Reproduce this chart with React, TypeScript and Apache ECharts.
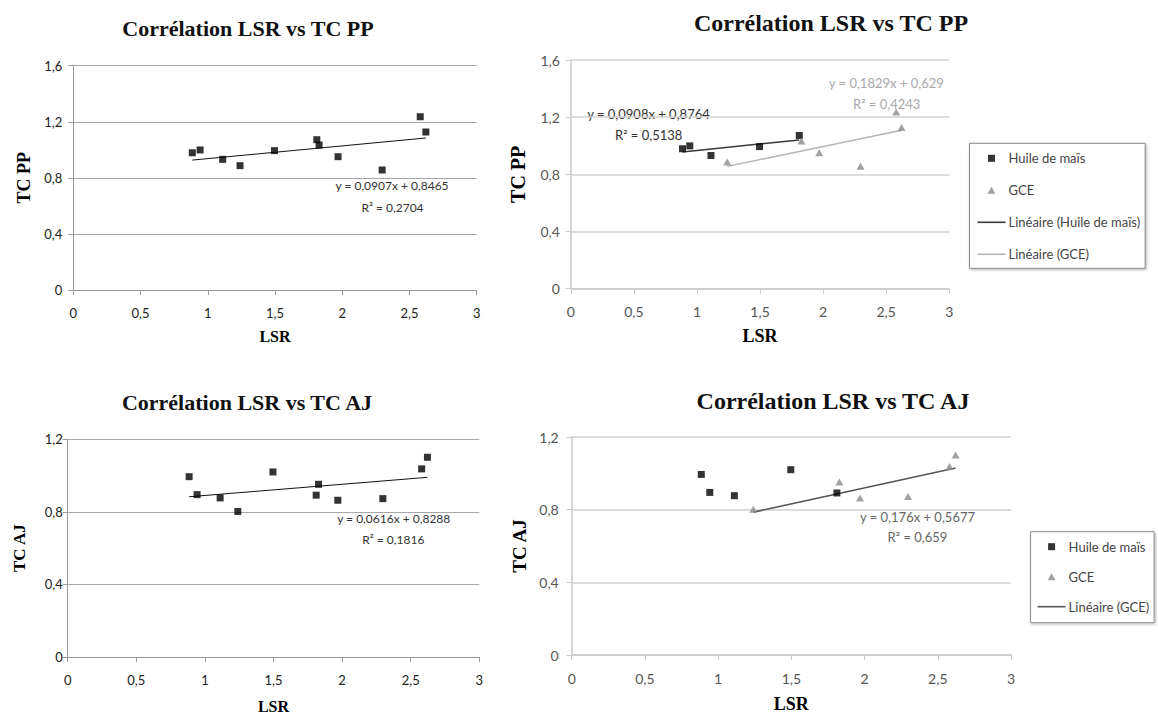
import React, { useEffect, useRef } from "react";
import * as echarts from "echarts";

// ---- data ----
const LSR = [0.885, 0.943, 1.111, 1.24, 1.496, 1.811, 1.828, 1.969, 2.297, 2.58, 2.622];
const TC_PP = [0.979, 0.999, 0.932, 0.887, 0.994, 1.072, 1.034, 0.951, 0.856, 1.236, 1.127];
const TC_AJ = [0.994, 0.895, 0.877, 0.802, 1.02, 0.892, 0.952, 0.864, 0.873, 1.037, 1.101];
const GROUP = ["H", "H", "H", "G", "H", "H", "G", "G", "G", "G", "G"];

const X_TICKS = ["0", "0,5", "1", "1,5", "2", "2,5", "3"];
const Y_TICKS_PP = ["0", "0,4", "0,8", "1,2", "1,6"];
const Y_TICKS_AJ = ["0", "0,4", "0,8", "1,2"];

const TITLES = [
  "Corrélation LSR vs TC PP",
  "Corrélation LSR vs TC PP",
  "Corrélation LSR vs TC AJ",
  "Corrélation LSR vs TC AJ",
];
const NAME_HUILE = "Huile de maïs";
const NAME_GCE = "GCE";
const NAME_LIN_HUILE = "Linéaire (Huile de maïs)";
const NAME_LIN_GCE = "Linéaire (GCE)";

// trend lines [slope, intercept]
const FIT_PP_ALL = [0.0907, 0.8465];
const FIT_PP_HUILE = [0.0908, 0.8764];
const FIT_PP_GCE = [0.1829, 0.629];
const FIT_AJ_ALL = [0.0616, 0.8288];
const FIT_AJ_GCE = [0.176, 0.5677];

const EQ_PP_ALL = ["y = 0,0907x + 0,8465", "R² = 0,2704"];
const EQ_PP_HUILE = ["y = 0,0908x + 0,8764", "R² = 0,5138"];
const EQ_PP_GCE = ["y = 0,1829x + 0,629", "R² = 0,4243"];
const EQ_AJ_ALL = ["y = 0,0616x + 0,8288", "R² = 0,1816"];
const EQ_AJ_GCE = ["y = 0,176x + 0,5677", "R² = 0,659"];

// ---- helpers ----
function pts(ys: number[], g?: string) {
  const out: number[][] = [];
  LSR.forEach((x, i) => {
    if (!g || GROUP[i] === g) out.push([x, ys[i]]);
  });
  return out;
}
function trend(fit: number[], g?: string) {
  const xs = LSR.filter((_, i) => !g || GROUP[i] === g);
  const lo = Math.min(...xs);
  const hi = Math.max(...xs);
  return [
    [lo, fit[0] * lo + fit[1]],
    [hi, fit[0] * hi + fit[1]],
  ];
}

const SERIF = "'Liberation Serif', 'Times New Roman', serif";
const SANS = "Lato, 'Noto Sans', sans-serif";

const GRIDS = [
  { left: 73.3, top: 65.7, width: 403.4, height: 224.3 },
  { left: 570.9, top: 60, width: 378.3, height: 228.7 },
  { left: 67.7, top: 439.3, width: 411.6, height: 218 },
  { left: 571.7, top: 437, width: 439.3, height: 218 },
];

export default function App() {
  const ref = useRef<HTMLDivElement>(null);
  useEffect(() => {
    if (!ref.current) return;
    const chart = echarts.init(ref.current, undefined, { renderer: "svg" });

    const left = [0, 2];
    const axisColor = (i: number) => (left.includes(i) ? "#9a9a9a" : "#c9c9c9");
    const labelColor = (i: number) => (left.includes(i) ? "#222" : "#555");
    const tickFont = (i: number) => (left.includes(i) ? 13 : 14);

    const xAxes = GRIDS.map((_, i) => ({
      type: "value",
      gridIndex: i,
      min: 0,
      max: 3,
      interval: 0.5,
      name: "LSR",
      nameLocation: "middle",
      nameGap: [38, 38, 41, 40][i],
      nameTextStyle: { fontFamily: SERIF, fontWeight: "bold", fontSize: [16, 18, 16, 18][i], color: "#000" },
      axisLine: { show: true, lineStyle: { color: axisColor(i), width: left.includes(i) ? 1 : 1.5 } },
      axisTick: { show: true, length: 5, inside: false, lineStyle: { color: axisColor(i) } },
      axisLabel: {
        margin: 16,
        fontFamily: SANS,
        fontSize: tickFont(i),
        color: labelColor(i),
        formatter: (v: number) => X_TICKS[Math.round(v / 0.5)],
      },
      splitLine: { show: false },
    }));

    const yAxes = GRIDS.map((_, i) => {
      const pp = i < 2;
      return {
        type: "value",
        gridIndex: i,
        min: 0,
        max: pp ? 1.6 : 1.2,
        interval: 0.4,
        name: pp ? "TC PP" : "TC AJ",
        nameLocation: "middle",
        nameGap: [40, 43, 40, 43][i],
        nameTextStyle: { fontFamily: SERIF, fontWeight: "bold", fontSize: [18, 20, 17, 19][i], color: "#000" },
        axisLine: { show: true, lineStyle: { color: axisColor(i), width: left.includes(i) ? 1 : 1.5 } },
        axisTick: { show: true, length: 5, inside: false, lineStyle: { color: axisColor(i) } },
        axisLabel: {
          margin: [11, 11, 5, 13][i],
          fontFamily: SANS,
          fontSize: tickFont(i),
          color: labelColor(i),
          formatter: (v: number) => (pp ? Y_TICKS_PP : Y_TICKS_AJ)[Math.round(v / 0.4)],
        },
        splitLine: { show: true, lineStyle: { color: left.includes(i) ? "#a8a8a8" : "#d2d2d2", width: left.includes(i) ? 1 : 1.5 } },
      };
    });

    const sq = (gi: number, data: number[][], name: string) => ({
      type: "scatter",
      name,
      xAxisIndex: gi,
      yAxisIndex: gi,
      data,
      symbol: "rect",
      symbolSize: 7,
      itemStyle: { color: "#000" },
      z: 3,
    });
    const tri = (gi: number, data: number[][]) => ({
      type: "scatter",
      name: NAME_GCE,
      xAxisIndex: gi,
      yAxisIndex: gi,
      data,
      symbol: "triangle",
      symbolSize: [8, 7],
      itemStyle: { color: "#8a8a8a" },
      z: 3,
    });
    const lin = (gi: number, data: number[][], name: string, color: string, width: number) => ({
      type: "line",
      name,
      xAxisIndex: gi,
      yAxisIndex: gi,
      data,
      symbol: "none",
      lineStyle: { color, width },
      itemStyle: { color },
      z: 2,
    });

    const series = [
      sq(0, pts(TC_PP), "LSR vs TC PP"),
      lin(0, trend(FIT_PP_ALL), "Tendance PP", "#111", 1),

      sq(1, pts(TC_PP, "H"), NAME_HUILE),
      tri(1, pts(TC_PP, "G")),
      lin(1, trend(FIT_PP_HUILE, "H"), NAME_LIN_HUILE, "#3a3a3a", 1.5),
      lin(1, trend(FIT_PP_GCE, "G"), NAME_LIN_GCE, "#b4b4b4", 1.5),

      sq(2, pts(TC_AJ), "LSR vs TC AJ"),
      lin(2, trend(FIT_AJ_ALL), "Tendance AJ", "#111", 1),

      sq(3, pts(TC_AJ, "H"), NAME_HUILE),
      tri(3, pts(TC_AJ, "G")),
      lin(3, trend(FIT_AJ_GCE, "G"), NAME_LIN_GCE, "#555", 1.5),
    ];

    const titlePos = [
      { x: 248, top: 17, size: 22 },
      { x: 831, top: 11, size: 24 },
      { x: 247, top: 391, size: 22 },
      { x: 833, top: 389, size: 24 },
    ];
    const titles = TITLES.map((t, i) => ({
      text: t,
      left: titlePos[i].x,
      top: titlePos[i].top,
      textAlign: "center",
      padding: 0,
      textStyle: { fontFamily: SERIF, fontWeight: "bold", fontSize: titlePos[i].size, color: "#111" },
    }));

    const SQ_ICON = "path://M0,0H10V10H0Z";
    const TRI_ICON = "path://M5,0L10,9H0Z";
    const LINE_ICON = "path://M0,0H28V1.6H0Z";
    const legendBase = {
      orient: "vertical",
      itemWidth: 28,
      itemHeight: 7,
      itemGap: 18,
      symbolKeepAspect: true,
      selectedMode: false,
      backgroundColor: "#fff",
      borderColor: "#8a8a8a",
      borderWidth: 1,
      borderRadius: 0,
      shadowColor: "rgba(0,0,0,0.3)",
      shadowBlur: 3,
      shadowOffsetX: 1,
      shadowOffsetY: 1,
      itemStyle: { borderWidth: 0 },
      textStyle: { fontFamily: SANS, fontSize: 13, color: "#444", lineHeight: 14, padding: [0, 0, 0, -2] },
    };
    const legends = [
      {
        ...legendBase,
        left: 969.5,
        top: 143.3,
        padding: [8, 5, 7, 8],
        data: [
          { name: NAME_HUILE, icon: SQ_ICON, itemStyle: { color: "#000" } },
          { name: NAME_GCE, icon: TRI_ICON, itemStyle: { color: "#8a8a8a" } },
          { name: NAME_LIN_HUILE, icon: LINE_ICON, itemStyle: { color: "#3a3a3a" } },
          { name: NAME_LIN_GCE, icon: LINE_ICON, itemStyle: { color: "#b4b4b4" } },
        ],
      },
      {
        ...legendBase,
        left: 1030.6,
        top: 531.7,
        itemGap: 16,
        padding: [8, 5, 9, 7],
        data: [
          { name: NAME_HUILE, icon: SQ_ICON, itemStyle: { color: "#000" } },
          { name: NAME_GCE, icon: TRI_ICON, itemStyle: { color: "#8a8a8a" } },
          { name: NAME_LIN_GCE, icon: LINE_ICON, itemStyle: { color: "#555" } },
        ],
      },
    ];

    const eqText = (text: string, x: number, y: number, size: number, color: string) => ({
      type: "text",
      x,
      y,
      silent: true,
      style: {
        text,
        fill: color,
        fontFamily: SANS,
        fontSize: size,
        align: "center",
        verticalAlign: "middle",
        textAlign: "center",
        textVerticalAlign: "middle",
      },
    });
    const graphic = [
      eqText(EQ_PP_ALL[0], 392, 185.7, 12, "#333"),
      eqText(EQ_PP_ALL[1], 392.5, 207.3, 12, "#333"),
      eqText(EQ_PP_HUILE[0], 648.5, 113.5, 13, "#333"),
      eqText(EQ_PP_HUILE[1], 648.7, 135, 13, "#333"),
      eqText(EQ_PP_GCE[0], 886.3, 82.7, 13, "#a8a8a8"),
      eqText(EQ_PP_GCE[1], 886.7, 104, 13, "#a8a8a8"),
      eqText(EQ_AJ_ALL[0], 393.7, 518.3, 12, "#333"),
      eqText(EQ_AJ_ALL[1], 393.3, 539, 12, "#333"),
      eqText(EQ_AJ_GCE[0], 917.5, 516.7, 13, "#666"),
      eqText(EQ_AJ_GCE[1], 917.5, 536.7, 13, "#666"),
    ];

    chart.setOption({
      animation: false,
      backgroundColor: "#fff",
      title: titles,
      grid: GRIDS.map((g) => ({ ...g, containLabel: false })),
      xAxis: xAxes,
      yAxis: yAxes,
      legend: legends,
      series,
      graphic,
    });
    return () => chart.dispose();
  }, []);

  return (
    <div
      ref={ref}
      style={{ position: "absolute", left: 0, top: 0, width: 1158, height: 715, background: "#fff" }}
    />
  );
}
